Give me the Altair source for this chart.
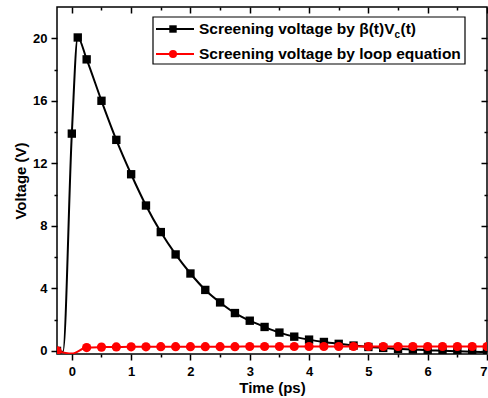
import altair as alt
import pandas as pd

# ---- data ----
t_black = [-0.25, -0.15, 0.0, 0.1, 0.25, 0.5, 0.75, 1.0, 1.25, 1.5, 1.75, 2.0, 2.25, 2.5, 2.75,
           3.0, 3.25, 3.5, 3.75, 4.0, 4.25, 4.5, 4.75, 5.0, 5.25, 5.5, 5.75, 6.0, 6.25,
           6.5, 6.75, 7.0]
v_black = [0.0, -0.05, 13.9, 20.05, 18.65, 16.0, 13.5, 11.3, 9.3, 7.6, 6.17, 4.95, 3.9, 3.1, 2.42,
           1.93, 1.53, 1.17, 0.91, 0.72, 0.57, 0.45, 0.34, 0.25, 0.19, 0.13, 0.09, 0.04, 0.01,
           -0.03, -0.06, -0.08]
# marker shown for each black point? (the -0.15 point is on the line only)
m_black = [True, False] + [True] * 30

t_red = [-0.25, 0.0, 0.25, 0.5, 0.75, 1.0, 1.25, 1.5, 1.75, 2.0, 2.25, 2.5, 2.75,
         3.0, 3.25, 3.5, 3.75, 4.0, 4.25, 4.5, 4.75, 5.0, 5.25, 5.5, 5.75, 6.0, 6.25,
         6.5, 6.75, 7.0]
v_red = [0.0, -0.17, 0.21, 0.24, 0.25, 0.26, 0.26, 0.27, 0.27, 0.27, 0.27, 0.27, 0.27,
         0.28, 0.28, 0.28, 0.28, 0.28, 0.28, 0.28, 0.28, 0.28, 0.28, 0.28, 0.28, 0.28, 0.28,
         0.28, 0.28, 0.28]
m_red = [True, False] + [True] * 28

x_major = [0, 1, 2, 3, 4, 5, 6, 7]
x_minor = [0.5, 1.5, 2.5, 3.5, 4.5, 5.5, 6.5]
y_major = [0, 4, 8, 12, 16, 20]
y_minor = [2, 6, 10, 14, 18]

legend_1 = "Screening voltage by β(t)V"
legend_1_sub = "c"
legend_1_end = "(t)"
legend_2 = "Screening voltage by loop equation"

FONT = "Liberation Sans"
W, H = 430, 347

black = pd.DataFrame({"t": t_black, "v": v_black, "m": m_black})
red = pd.DataFrame({"t": t_red, "v": v_red, "m": m_red})
one = pd.DataFrame({"a": [0]})

xs = alt.Scale(domain=[-0.25, 7], nice=False, zero=False)
ys = alt.Scale(domain=[-0.2, 22], nice=False, zero=False)

common_axis = dict(domain=False, tickColor="black", tickWidth=1.5, grid=False)

ax_x_main = alt.Axis(orient="bottom", values=x_major, tickSize=6, labelFont=FONT,
                     labelFontWeight="bold", labelFontSize=13, labelColor="black",
                     labelPadding=5, title="Time (ps)", titleFont=FONT, titleFontSize=15,
                     titleFontWeight="bold", titleColor="black", titlePadding=2,
                     format="d", **common_axis)
ax_y_main = alt.Axis(orient="left", values=y_major, tickSize=6, labelFont=FONT,
                     labelFontWeight="bold", labelFontSize=13, labelColor="black",
                     labelPadding=4, title="Voltage (V)", titleFont=FONT, titleFontSize=15,
                     titleFontWeight="bold", titleColor="black", titlePadding=4,
                     format="d", **common_axis)
ax_x_minor = alt.Axis(orient="bottom", values=x_minor, tickSize=3, labels=False, title=None,
                      **common_axis)
ax_y_minor = alt.Axis(orient="left", values=y_minor, tickSize=3, labels=False, title=None,
                      **common_axis)
ax_top_major = alt.Axis(orient="bottom", offset=-H, values=x_major, tickSize=6, labels=False,
                        title=None, **common_axis)
ax_top_minor = alt.Axis(orient="bottom", offset=-H, values=x_minor, tickSize=3, labels=False,
                        title=None, **common_axis)
ax_right_major = alt.Axis(orient="left", offset=-W, values=y_major, tickSize=6, labels=False,
                          title=None, **common_axis)
ax_right_minor = alt.Axis(orient="left", offset=-W, values=y_minor, tickSize=3, labels=False,
                          title=None, **common_axis)

black_line = alt.Chart(black).mark_line(color="black", strokeWidth=2, interpolate="monotone",
                                        clip=True).encode(
    x=alt.X("t:Q", scale=xs, axis=ax_x_main),
    y=alt.Y("v:Q", scale=ys, axis=ax_y_main),
)
black_pts = alt.Chart(black).transform_filter("datum.m").mark_point(
    shape="square", filled=True, color="black", size=70, opacity=1, clip=True).encode(
    x=alt.X("t:Q", scale=xs, axis=ax_x_minor),
    y=alt.Y("v:Q", scale=ys, axis=ax_y_minor),
)
red_line = alt.Chart(red).mark_line(color="#ff0000", strokeWidth=2, interpolate="monotone",
                                    clip=True).encode(
    x=alt.X("t:Q", scale=xs, axis=ax_top_major),
    y=alt.Y("v:Q", scale=ys, axis=ax_right_major),
)
red_pts = alt.Chart(red).transform_filter("datum.m").mark_point(
    shape="circle", filled=True, color="#ff0000", size=85, opacity=1, clip=True).encode(
    x=alt.X("t:Q", scale=xs, axis=ax_top_minor),
    y=alt.Y("v:Q", scale=ys, axis=ax_right_minor),
)

# ---- legend (drawn box) ----
box = alt.Chart(one).mark_rect(fill="white", stroke="black", strokeWidth=1.2).encode(
    x=alt.value(96), x2=alt.value(408), y=alt.value(10), y2=alt.value(57))
leg_line1 = alt.Chart(one).mark_rule(color="black", strokeWidth=2).encode(
    x=alt.value(99), x2=alt.value(137), y=alt.value(22))
leg_pt1 = alt.Chart(one).mark_point(shape="square", filled=True, color="black", size=55,
                                    opacity=1).encode(x=alt.value(116), y=alt.value(22))
leg_line2 = alt.Chart(one).mark_rule(color="#ff0000", strokeWidth=2).encode(
    x=alt.value(99), x2=alt.value(137), y=alt.value(47))
leg_pt2 = alt.Chart(one).mark_point(shape="circle", filled=True, color="#ff0000", size=65,
                                    opacity=1).encode(x=alt.value(116), y=alt.value(47))
txt_style = dict(font=FONT, fontWeight="bold", fontSize=15.5, align="left",
                 baseline="middle", color="black")
leg_txt1 = alt.Chart(one).mark_text(**txt_style).encode(
    x=alt.value(142), y=alt.value(22), text=alt.value(legend_1))
leg_sub1 = alt.Chart(one).mark_text(font=FONT, fontWeight="bold", fontSize=10, align="left",
                                    baseline="middle", color="black").encode(
    x=alt.value(337.5), y=alt.value(28), text=alt.value(legend_1_sub))
leg_end1 = alt.Chart(one).mark_text(**txt_style).encode(
    x=alt.value(343.5), y=alt.value(22), text=alt.value(legend_1_end))
leg_txt2 = alt.Chart(one).mark_text(**txt_style).encode(
    x=alt.value(142), y=alt.value(47), text=alt.value(legend_2))

chart = alt.layer(
    black_line, black_pts, red_line, red_pts,
    box, leg_line1, leg_pt1, leg_line2, leg_pt2, leg_txt1, leg_sub1, leg_end1, leg_txt2,
).resolve_axis(x="independent", y="independent").properties(
    width=W, height=H,
    autosize=alt.AutoSizeParams(type="none"),
    padding={"left": 57, "top": 7, "right": 1, "bottom": 44},
    background="white",
).configure_view(stroke="black", strokeWidth=1.5)

chart.save("out.html", embed_options={"renderer": "svg", "actions": False})
